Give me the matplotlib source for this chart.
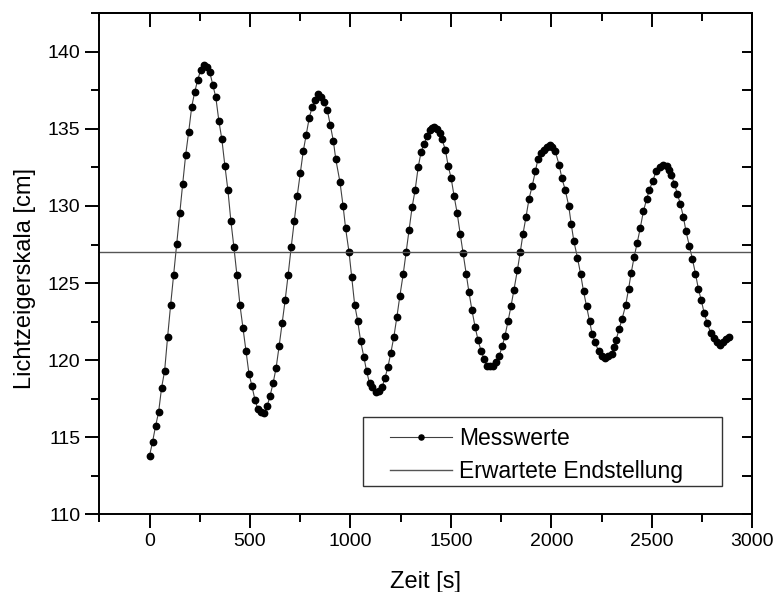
import matplotlib
matplotlib.use("Agg")
import matplotlib.pyplot as plt
from matplotlib.patches import Rectangle
from matplotlib.ticker import MultipleLocator

plt.rcParams['font.family'] = ['Liberation Sans', 'DejaVu Sans']

zeit = [0, 15, 30, 45, 60, 75, 90, 105, 120, 135, 150, 165, 180, 195, 210, 225,
        240, 255, 270, 285, 300, 315, 330, 345, 360, 375, 390, 405, 420, 435, 450,
        465, 480, 495, 510, 525, 540, 555, 570, 585, 600, 615, 630, 645, 660, 675,
        690, 705, 720, 735, 750, 765, 780, 795, 810, 825, 840, 855, 870, 885,
        900, 915, 927, 948, 963, 976, 993, 1006, 1021, 1036, 1051, 1067, 1080,
        1095, 1109, 1125, 1142, 1158, 1171, 1186, 1201, 1216, 1231, 1246, 1263,
        1277, 1292, 1307, 1322, 1337, 1352, 1367, 1382, 1395, 1407, 1418, 1431,
        1445, 1456, 1473, 1486, 1501, 1516, 1531, 1546, 1561, 1576, 1590, 1605,
        1620, 1635, 1650, 1665, 1680, 1696, 1710, 1725, 1741, 1756, 1769, 1784,
        1799, 1814, 1831, 1845, 1859, 1874, 1889, 1905, 1920, 1933, 1948, 1961,
        1976, 1991, 2004, 2019, 2039, 2052, 2069, 2086, 2099, 2112, 2130, 2145,
        2160, 2175, 2190, 2203, 2218, 2235, 2251, 2268, 2284, 2301, 2312, 2322,
        2337, 2352, 2370, 2384, 2397, 2412, 2427, 2442, 2458, 2475, 2488, 2505,
        2521, 2541, 2558, 2574, 2586, 2597, 2612, 2627, 2642, 2657, 2670, 2687,
        2702, 2717, 2732, 2746, 2761, 2776, 2793, 2809, 2824, 2839, 2856, 2869,
        2882]
skala = [113.80, 114.69, 115.72, 116.61, 118.21, 119.29, 121.51, 123.58, 125.55,
         127.54, 129.55, 131.43, 133.33, 134.82, 136.44, 137.41, 138.19, 138.84,
         139.16, 139.01, 138.67, 137.87, 137.04, 135.53, 134.32, 132.62, 131.04,
         129.01, 127.32, 125.51, 123.58, 122.07, 120.60, 119.11, 118.30, 117.41,
         116.80, 116.63, 116.58, 117.00, 117.69, 118.51, 119.50, 120.91, 122.38,
         123.89, 125.55, 127.32, 129.01, 130.65, 132.12, 133.55, 134.63, 135.73,
         136.44, 136.90, 137.28, 137.06, 136.72, 136.20,
         135.23, 134.21, 133.03, 131.54, 130.03, 128.54, 127.00, 125.42, 123.59,
         122.55, 121.21, 120.19, 119.31, 118.49, 118.27, 117.95, 118.01, 118.27,
         118.81, 119.53, 120.47, 121.51, 122.79, 124.17, 125.62, 127.00, 128.43,
         129.94, 131.04, 132.51, 133.53, 134.04, 134.52, 134.91, 135.08, 135.12,
         134.97, 134.73, 134.32, 133.61, 132.62, 131.82, 130.63, 129.55, 128.21,
         126.92, 125.62, 124.39, 123.22, 122.18, 121.30, 120.60, 120.08, 119.61,
         119.61, 119.61, 119.87, 120.30, 120.93, 121.57, 122.51, 123.50, 124.58,
         125.85, 127.00, 128.21, 129.31, 130.48, 131.32, 132.25, 133.03, 133.44,
         133.66, 133.82, 133.93, 133.82, 133.57, 132.64, 131.82, 131.04, 130.03,
         128.81, 127.71, 126.63, 125.62, 124.47, 123.50, 122.53, 121.69, 121.15,
         120.58, 120.26, 120.15, 120.26, 120.43, 120.85, 121.32, 121.99, 122.68,
         123.58, 124.60, 125.64, 126.70, 127.60, 128.54, 129.66, 130.48, 131.06,
         131.62, 132.27, 132.53, 132.64, 132.57, 132.35, 132.03, 131.45, 130.80,
         130.13, 129.29, 128.36, 127.41, 126.55, 125.62, 124.60, 123.89, 123.03,
         122.38, 121.77, 121.41, 121.19, 120.97, 121.19, 121.36, 121.51]

endstellung = 127.0

fig = plt.figure(figsize=(7.77, 5.92), dpi=100)
ax = fig.add_axes([0.1278, 0.1313, 0.8404, 0.8462])

ax.plot(zeit, skala, color='#404040', lw=0.8, marker='o', ms=4.6,
        mfc='black', mec='black', label='Messwerte')
ax.axhline(endstellung, color='#555555', lw=1.0, label='Erwartete Endstellung')

ax.set_xlim(-250, 3000)
ax.set_ylim(110, 142.5)
ax.xaxis.set_major_locator(MultipleLocator(500))
ax.xaxis.set_minor_locator(MultipleLocator(250))
ax.yaxis.set_major_locator(MultipleLocator(5))
ax.yaxis.set_minor_locator(MultipleLocator(2.5))

for s in ax.spines.values():
    s.set_linewidth(1.4)
ax.tick_params(which='major', direction='out', length=10, width=1.4, labelsize=14)
ax.tick_params(which='minor', direction='out', length=6, width=1.4)

top = ax.secondary_xaxis('top')
top.xaxis.set_major_locator(MultipleLocator(500))
top.xaxis.set_minor_locator(MultipleLocator(250))
top.tick_params(which='major', direction='in', length=10, width=1.4, labeltop=False)
top.tick_params(which='minor', direction='in', length=6, width=1.4)
top.spines['top'].set_linewidth(1.4)

right = ax.secondary_yaxis('right')
right.yaxis.set_major_locator(MultipleLocator(2.5))
right.tick_params(which='major', direction='in', length=7, width=1.4, labelright=False)
right.spines['right'].set_linewidth(1.4)

ax.set_xlabel('Zeit [s]', fontsize=17, labelpad=15)
ax.set_ylabel('Lichtzeigerskala [cm]', fontsize=17)
ax.yaxis.set_label_coords(-0.097, 0.471)

# Legendenrahmen separat, damit Abstand links/rechts wie im Original
ax.add_patch(Rectangle((0.4038, 0.0565), 0.5498, 0.1377, transform=ax.transAxes,
                       facecolor='white', edgecolor='#333333', lw=1.0, zorder=4))
leg = ax.legend(loc='center left', bbox_to_anchor=(0.4452, 0.1184),
                fontsize=16.5, numpoints=1, handlelength=2.7,
                handletextpad=0.3, borderpad=0, labelspacing=0.47,
                frameon=False, borderaxespad=0, markerscale=0.8)
leg.set_zorder(5)

fig.savefig('out.png', dpi=100)
